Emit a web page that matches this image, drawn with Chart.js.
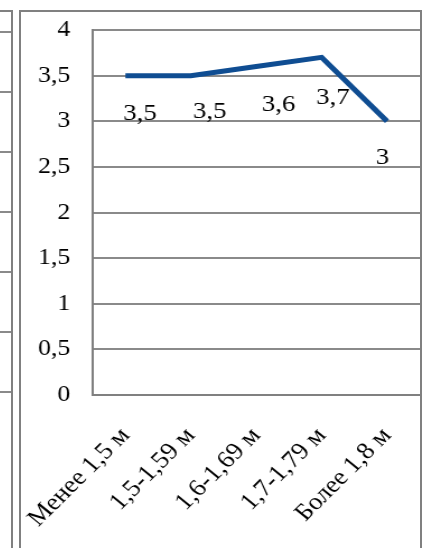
<!DOCTYPE html>
<html>
<head>
<meta charset="utf-8">
<script src="https://cdn.jsdelivr.net/npm/chart.js@4.4.1/dist/chart.umd.min.js"></script>
<style>
  html, body { margin: 0; padding: 0; background: #fff; }
  body { width: 428px; height: 548px; position: relative; overflow: hidden; }
  /* кусочек соседней диаграммы слева */
  #sosed {
    position: absolute; left: 0; top: 10px; width: 11px; height: 538px;
    border-top: 2px solid #808080; border-right: 2px solid #808080;
  }
  #sosed-grid {
    position: absolute; left: 0; top: 10px; width: 11px; height: 388px;
    background: repeating-linear-gradient(to bottom, transparent 0 21px, #8a8a8a 21px 23px, transparent 23px 60px);
  }
  #quadro {
    position: absolute; left: 19px; top: 10px; width: 399px; height: 540px;
    border: 2px solid #808080; border-bottom: none; overflow: hidden;
  }
  /* a imagem original está esticada na horizontal */
  #esticar { position: absolute; left: 0; top: 0; transform: scaleX(1.12); transform-origin: 0 0; }
</style>
</head>
<body>
<div id="sosed"></div>
<div id="sosed-grid"></div>
<div id="quadro"><div id="esticar"><canvas id="grafico" width="356" height="536"></canvas></div></div>
<script>
// Dados do gráfico
const categorias = ['Менее 1,5 м', '1,5-1,59 м', '1,6-1,69 м', '1,7-1,79 м', 'Более 1,8 м'];
const valores = [3.5, 3.5, 3.6, 3.7, 3];
const rotulosValores = ['3,5', '3,5', '3,6', '3,7', '3'];

const fonteSerif = "'Liberation Serif', 'Times New Roman', serif";

// deslocamento dos rótulos em relação ao ponto (como no original)
const deslocRotulos = [[13, 38], [17, 36], [20, 38], [10, 40], [-4, 36]];

const pluginRotulos = {
  id: 'rotulos',
  afterDatasetsDraw(chart) {
    const ctx = chart.ctx;
    const meta = chart.getDatasetMeta(0);
    ctx.save();
    ctx.font = '24px ' + fonteSerif;
    ctx.fillStyle = '#000';
    ctx.textAlign = 'center';
    ctx.textBaseline = 'middle';
    meta.data.forEach((pt, i) => {
      const d = deslocRotulos[i];
      ctx.fillText(rotulosValores[i], pt.x + d[0], pt.y + d[1]);
    });
    ctx.restore();
  }
};

const ctx = document.getElementById('grafico').getContext('2d');
new Chart(ctx, {
  type: 'line',
  data: {
    labels: categorias,
    datasets: [{
      data: valores,
      borderColor: '#0f4d92',
      borderWidth: 5,
      pointRadius: 0,
      tension: 0,
      fill: false
    }]
  },
  options: {
    responsive: false,
    animation: false,
    layout: { padding: { top: 18, right: 0, left: 0, bottom: 0 } },
    scales: {
      x: {
        offset: true,
        grid: { display: false, drawTicks: false },
        border: { display: true, color: '#808080', width: 2 },
        ticks: {
          color: '#000',
          font: { family: fonteSerif, size: 24 },
          minRotation: 48,
          maxRotation: 48,
          padding: 27,
          autoSkip: false
        },
        afterFit(scale) {
          scale.height = 536 - 18 - 365;
          scale.paddingLeft = 0;
          scale.paddingRight = 0;
        }
      },
      y: {
        min: 0,
        max: 4,
        grid: { color: '#8a8a8a', lineWidth: 2, drawTicks: false },
        border: { display: true, color: '#808080', width: 2 },
        ticks: {
          stepSize: 0.5,
          color: '#000',
          padding: 20,
          font: { family: fonteSerif, size: 23 },
          callback: v => String(v).replace('.', ',')
        },
        afterFit(scale) {
          scale.width = 64;
          scale.paddingTop = 0;
          scale.paddingBottom = 0;
        }
      }
    },
    plugins: {
      legend: { display: false },
      tooltip: { enabled: false }
    }
  },
  plugins: [pluginRotulos]
});
</script>
</body>
</html>
